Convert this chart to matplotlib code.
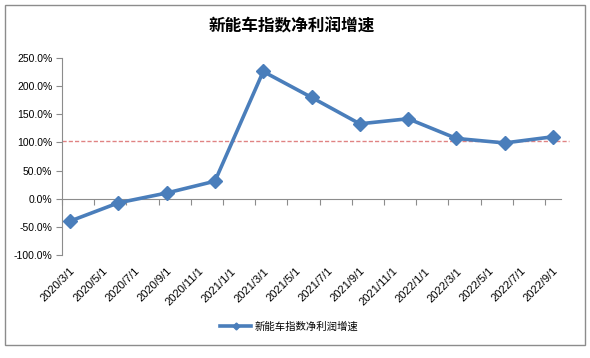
import matplotlib
matplotlib.use("Agg")
import matplotlib.pyplot as plt
from matplotlib.patches import Rectangle
import matplotlib.ticker as mticker

plt.rcParams['font.family'] = ['Liberation Sans', 'Noto Sans CJK SC', 'DejaVu Sans']

title = "新能车指数净利润增速"
series_name = "新能车指数净利润增速"
# month index from 2020/3 (0) to 2022/9 (30)
point_months = [0, 3, 6, 9, 12, 15, 18, 21, 24, 27, 30]
growth = [-40, -7.5, 10, 31, 226, 180, 133, 142, 107, 99, 110]
ref_level = 103
tick_labels = ["2020/3/1", "2020/5/1", "2020/7/1", "2020/9/1", "2020/11/1",
               "2021/1/1", "2021/3/1", "2021/5/1", "2021/7/1", "2021/9/1",
               "2021/11/1", "2022/1/1", "2022/3/1", "2022/5/1", "2022/7/1",
               "2022/9/1"]
label_months = list(range(0, 31, 2))
y_ticks = [-100, -50, 0, 50, 100, 150, 200, 250]

fig = plt.figure(figsize=(5.9, 3.58), dpi=100)
fig.patches.append(Rectangle((0.0085, 0.036), 0.983, 0.950, transform=fig.transFigure,
                             fill=False, edgecolor='#8c8c8c', linewidth=1.0))
ax = fig.add_axes([0.105, 0.288, 0.846, 0.550])

blue = '#4a7ebb'
ax.axhline(ref_level, xmin=0, xmax=1.016, color='#d65a5a', linestyle=(0, (3, 1.5)),
           linewidth=1.0, alpha=0.75, clip_on=False, zorder=2)
ax.plot(point_months, growth, color=blue, linewidth=2.6, marker='D', markersize=7,
        markerfacecolor=blue, markeredgecolor=blue, label=series_name, zorder=3)

ax.set_xlim(-0.5, 30.5)
ax.set_ylim(-100, 250)
ax.set_yticks(y_ticks)
ax.yaxis.set_major_formatter(mticker.FuncFormatter(lambda v, p: f"{v:.1f}%"))
ax.tick_params(axis='y', direction='out', length=4, width=0.8, color='#8c8c8c',
               labelsize=7.5, pad=3)

ax.set_xticks(label_months)
ax.set_xticklabels(tick_labels, rotation=45, ha='right', va='top',
                   rotation_mode='anchor', fontsize=8)
ax.tick_params(axis='x', length=0, pad=8)

for s in ['top', 'right', 'bottom']:
    ax.spines[s].set_visible(False)
ax.spines['left'].set_color('#8c8c8c')
ax.spines['left'].set_linewidth(0.8)

# x axis line at zero with boundary tick marks
sec = ax.secondary_xaxis(100 / 350)
sec.set_xticks([m - 0.5 for m in range(0, 32, 2)])
sec.set_xticklabels([])
sec.tick_params(direction='out', length=4, width=0.8, color='#8c8c8c')
sec.spines['bottom'].set_color('#8c8c8c')
sec.spines['bottom'].set_linewidth(0.8)

fig.text(0.495, 0.925, title, ha='center', va='center', fontsize=12,
         fontweight='bold', family=['Noto Sans CJK SC', 'DejaVu Sans'])

leg = fig.legend(loc='center', bbox_to_anchor=(0.49, 0.088), frameon=False,
                 prop={'family': ['Noto Sans CJK SC', 'DejaVu Sans'], 'size': 7.5},
                 handlelength=3.0, markerscale=0.5, handletextpad=0.3)

fig.savefig("out.png", dpi=100)
